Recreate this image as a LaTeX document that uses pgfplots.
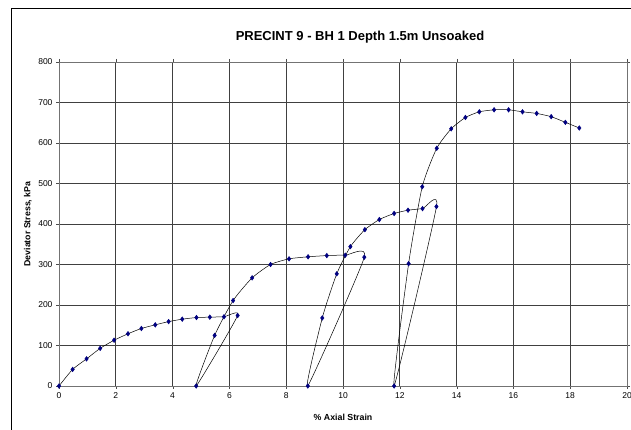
\documentclass[border=0pt]{standalone}
\usepackage{fontspec}
\setmainfont{Liberation Sans}
\usepackage{pgfplots}
\pgfplotsset{compat=1.18}
\definecolor{navy}{RGB}{0,0,128}
\begin{document}
\begin{tikzpicture}
\path[use as bounding box] (0pt,0pt) rectangle (631pt,430pt);
\draw[line width=1.6pt] (11.5pt,-20pt) -- (11.5pt,421.5pt) -- (660pt,421.5pt);
\node[font=\bfseries\fontsize{13}{15}\selectfont] at (360pt,393pt) {PRECINT 9 - BH 1 Depth 1.5m Unsoaked};
\begin{axis}[
  at={(59pt,44pt)}, anchor=south west,
  scale only axis, width=568pt, height=324pt,
  xmin=0, xmax=20, ymin=0, ymax=800,
  xtick distance=2, ytick distance=100,
  grid=major,
  major grid style={black!75, line width=0.7pt},
  axis line style={black!55, line width=0.8pt},
  tick style={black!70},
  tick align=outside, major tick length=3pt,
  tick label style={font=\fontsize{8.5}{10}\selectfont},
  /pgf/number format/assume math mode=true,
  xlabel={\% Axial Strain},
  ylabel={Deviator Stress, kPa},
  label style={font=\bfseries\fontsize{8.8}{10}\selectfont},
  xlabel style={at={(axis description cs:0.5,-0.0957)}, anchor=center},
  ylabel style={at={(axis description cs:-0.0546,0.5)}, anchor=center},
  clip=false,
]
\addplot[black, line width=0.5pt, smooth, tension=0.35,
  mark=diamond*, mark size=2.3pt, mark options={fill=navy, draw=navy, solid}]
coordinates {
(0,0) (0.48,41) (0.97,67) (1.45,93) (1.94,113) (2.43,129) (2.90,142)
(3.39,151) (3.86,159) (4.34,165) (4.84,169) (5.31,170) (5.81,171) (6.29,174)
(4.83,0) (5.48,125) (6.13,211) (6.80,267) (7.45,300) (8.10,314) (8.77,319)
(9.43,322) (10.08,323) (10.75,318)
(8.76,0) (9.27,168) (9.78,277) (10.26,344) (10.77,386) (11.28,411) (11.80,426)
(12.29,434) (12.80,438) (13.29,443)
(11.80,0) (12.31,302) (12.79,492) (13.30,587) (13.81,635) (14.31,663) (14.80,677)
(15.32,682) (15.83,682) (16.32,677) (16.82,673) (17.33,665) (17.83,651) (18.32,637)
};
\end{axis}
\end{tikzpicture}
\end{document}
